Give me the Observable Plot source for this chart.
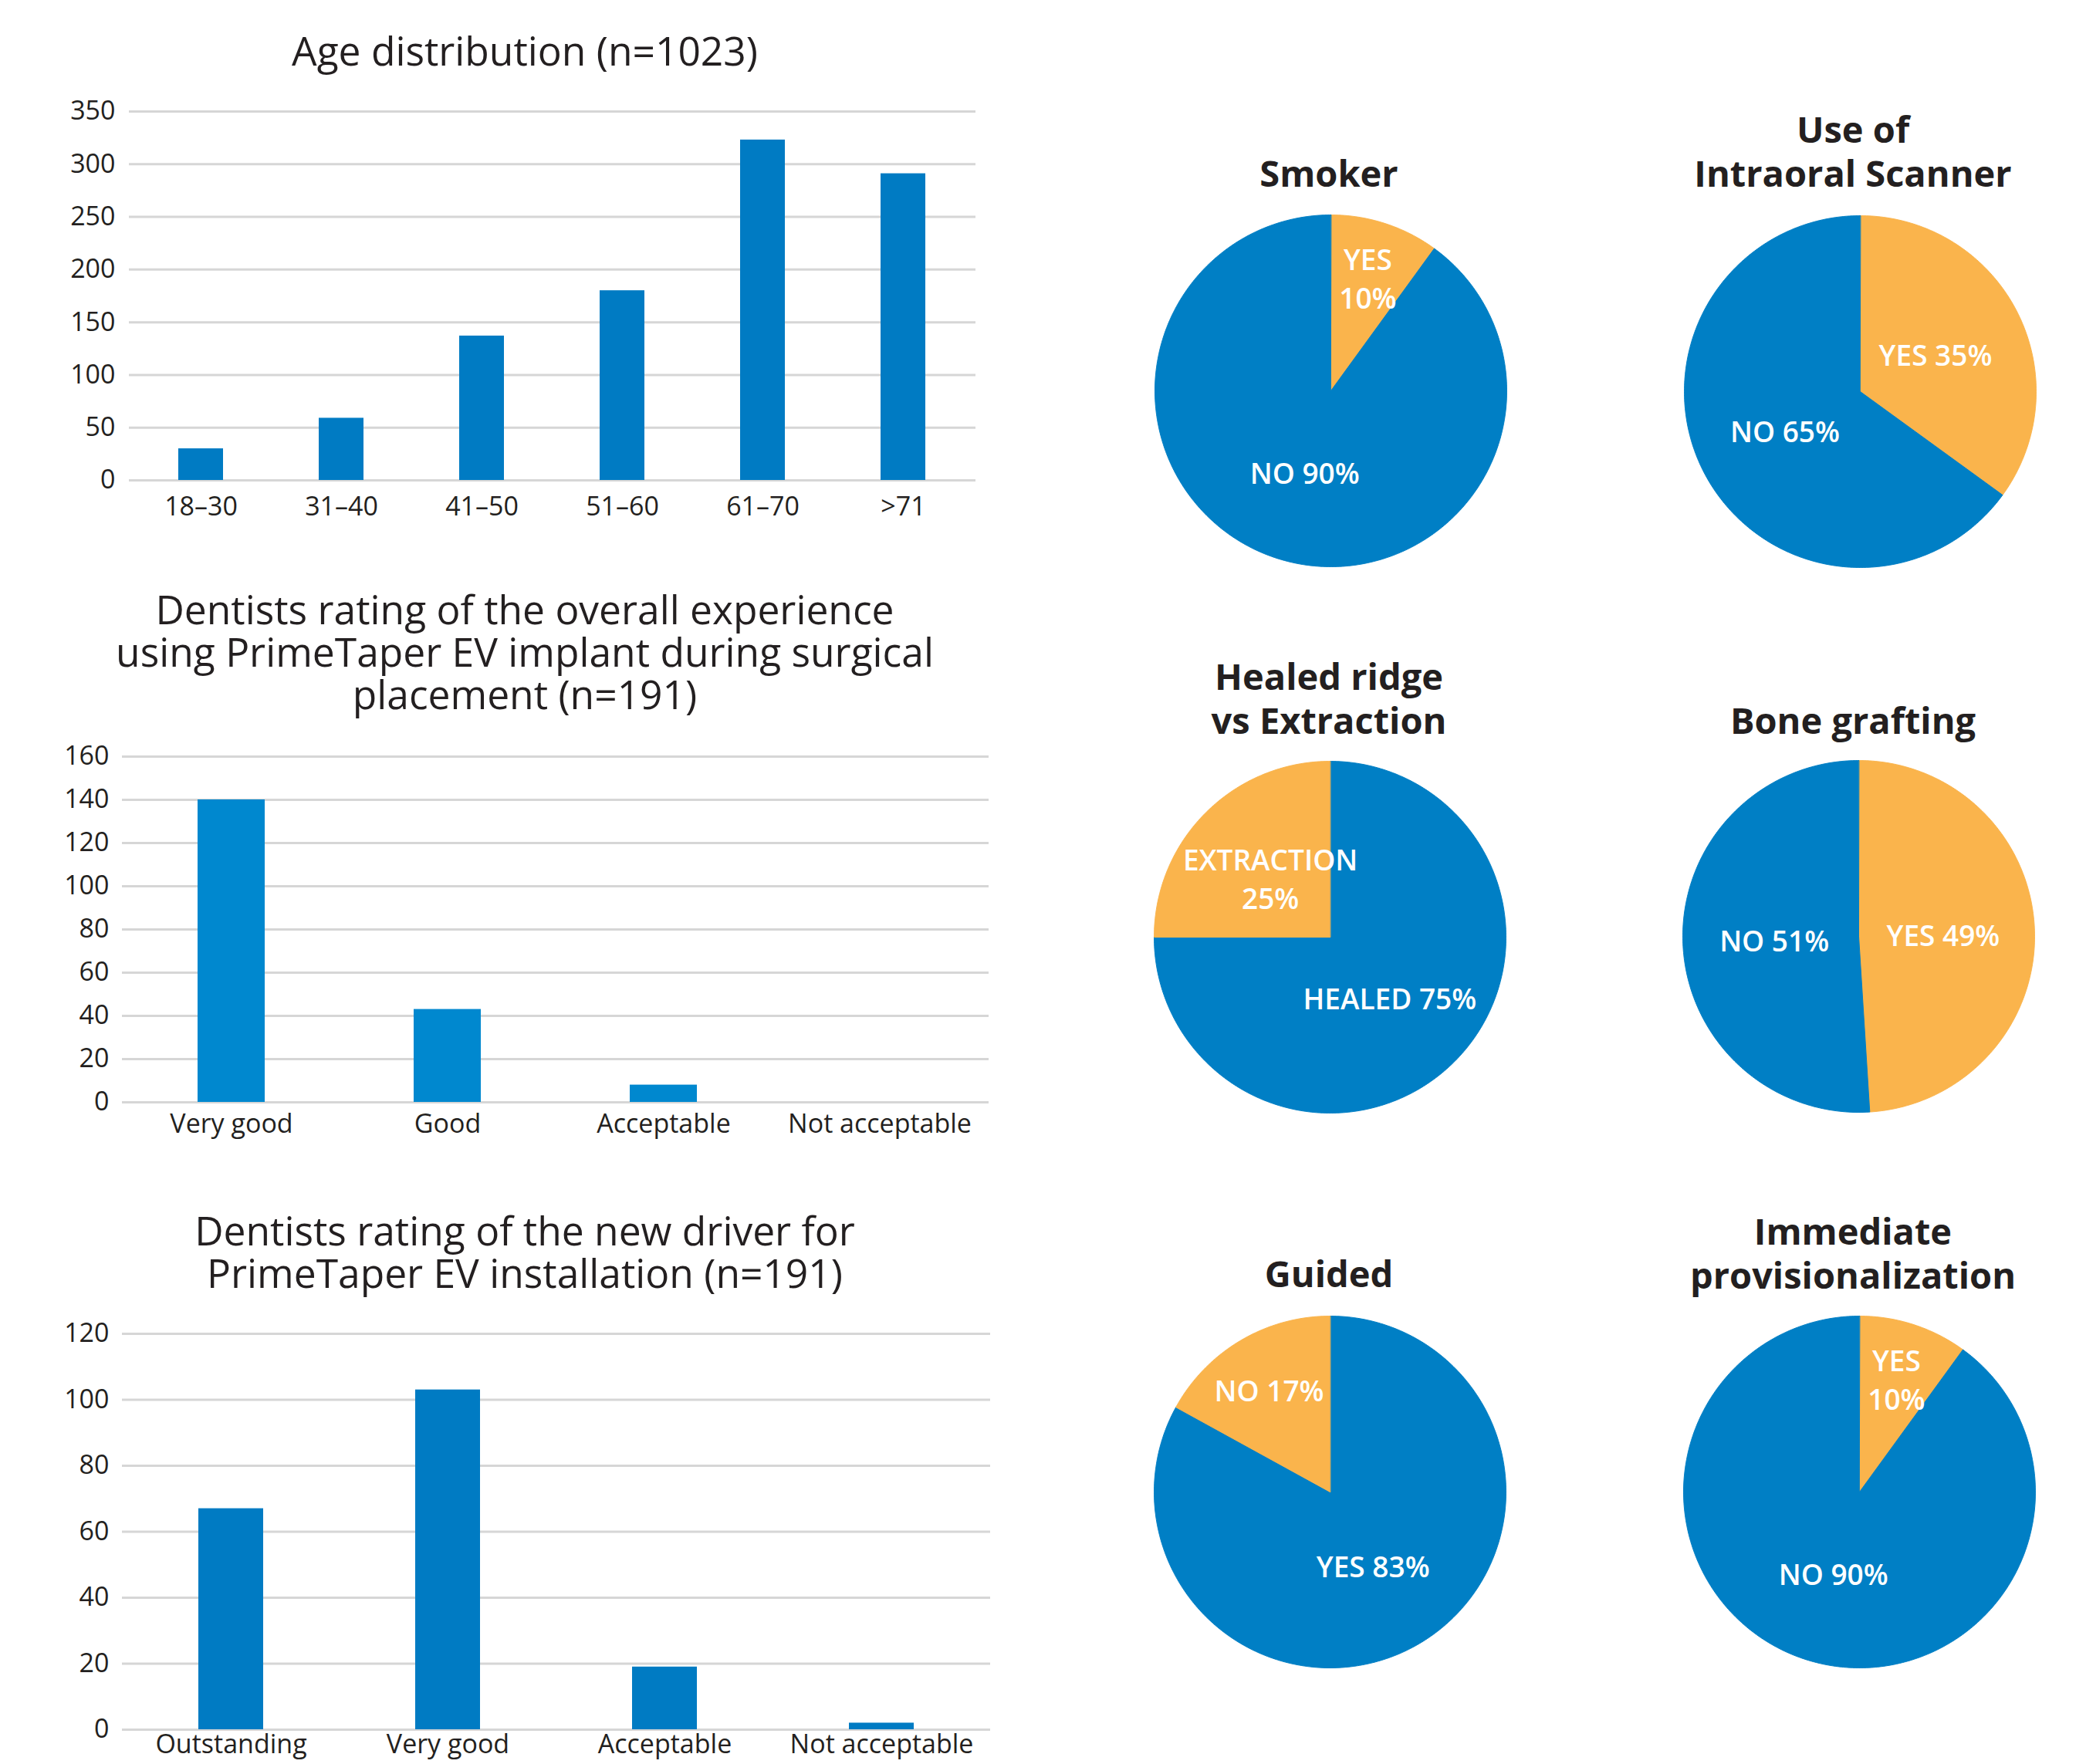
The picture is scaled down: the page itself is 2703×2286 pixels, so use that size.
<!DOCTYPE html>
<html>
<head>
<meta charset="utf-8">
<script src="https://cdn.jsdelivr.net/npm/d3@7"></script>
<script src="https://cdn.jsdelivr.net/npm/@observablehq/plot@0.6"></script>
<style>
  html, body { margin: 0; padding: 0; background: #ffffff; }
  #root { position: relative; width: 2703px; height: 2286px; overflow: hidden; color: #231f20; }
  .title { position: absolute; transform: translateX(-50%); text-align: center; white-space: pre;
           font-family: 'Open Sans', Lato, sans-serif; font-size: 51.5px; line-height: 55px; font-weight: 400; color: #231f20; }
  .pie-title { font-weight: 700; font-size: 47px; line-height: 57px; }
  .chart { position: absolute; }
  .chart svg { max-width: none !important; display: block; }
</style>
</head>
<body>
<div id="root"></div>
<script>
// ---------------- DATA ----------------
const ageGroups = ["18–30", "31–40", "41–50", "51–60", "61–70", ">71"];
const ageCounts = [30, 59, 137, 180, 323, 291];
const ageTicks = [0, 50, 100, 150, 200, 250, 300, 350];

const experienceRatings = ["Very good", "Good", "Acceptable", "Not acceptable"];
const experienceCounts = [140, 43, 8, 0];
const experienceTicks = [0, 20, 40, 60, 80, 100, 120, 140, 160];

const driverRatings = ["Outstanding", "Very good", "Acceptable", "Not acceptable"];
const driverCounts = [67, 103, 19, 2];
const driverTicks = [0, 20, 40, 60, 80, 100, 120];

const smokerCategories = ["YES", "NO"];
const smokerShares = [10, 90];
const smokerLabels = ["YES\n10%", "NO 90%"];

const scannerCategories = ["YES", "NO"];
const scannerShares = [35, 65];
const scannerLabels = ["YES 35%", "NO 65%"];

const ridgeCategories = ["HEALED", "EXTRACTION"];
const ridgeShares = [75, 25];
const ridgeLabels = ["HEALED 75%", "EXTRACTION\n25%"];

const graftCategories = ["YES", "NO"];
const graftShares = [49, 51];
const graftLabels = ["YES 49%", "NO 51%"];

const guidedCategories = ["YES", "NO"];
const guidedShares = [83, 17];
const guidedLabels = ["YES 83%", "NO 17%"];

const provisionalCategories = ["YES", "NO"];
const provisionalShares = [10, 90];
const provisionalLabels = ["YES\n10%", "NO 90%"];

// ---------------- STYLE ----------------
const FONT = "'Open Sans', Lato, sans-serif";
const INK = "#231f20";
const GRID = "#d6d6d6";
const BAR_BLUE = "#007bc3";
const BAR_BLUE_LIGHT = "#0088cf";
const PIE_BLUE = "#007fc5";
const ORANGE = "#fab44c";

const root = document.getElementById("root");

function place(node, left, top) {
  const div = document.createElement("div");
  div.className = "chart";
  div.style.left = left + "px";
  div.style.top = top + "px";
  div.appendChild(node);
  root.appendChild(div);
}

function title(text, cx, top, cls) {
  const div = document.createElement("div");
  div.className = "title" + (cls ? " " + cls : "");
  div.style.left = cx + "px";
  div.style.top = top + "px";
  div.textContent = text;
  root.appendChild(div);
}

function barChart(o) {
  const data = o.categories.map((c, i) => ({category: c, value: o.values[i]}));
  return Plot.plot({
    width: o.width,
    height: o.height,
    marginLeft: o.marginLeft,
    marginRight: o.marginRight,
    marginTop: o.marginTop,
    marginBottom: o.marginBottom,
    style: {fontFamily: FONT, fontSize: "34px", color: INK, background: "transparent", overflow: "visible"},
    x: {domain: o.categories, paddingInner: o.padding, paddingOuter: o.padding / 2, label: null, tickSize: 0, tickPadding: o.xPad},
    y: {domain: [0, o.ticks[o.ticks.length - 1]], ticks: o.ticks, label: null, tickSize: 0, tickPadding: o.yPad},
    marks: [
      Plot.ruleY(o.ticks, {stroke: GRID, strokeWidth: 3}),
      Plot.barY(data, {x: "category", y: "value", fill: o.color})
    ]
  });
}

function pieChart(o) {
  const r = 228, size = 464, m = (size - 2 * r) / 2;
  const arcs = d3.pie().sort(null).value(d => d)(o.shares);
  const outline = [];
  arcs.forEach((a, i) => {
    const n = Math.max(2, Math.ceil((a.endAngle - a.startAngle) / (Math.PI / 360)));
    outline.push({key: o.categories[i], x: 0, y: 0});
    for (let k = 0; k <= n; k++) {
      const t = a.startAngle + (a.endAngle - a.startAngle) * k / n;
      outline.push({key: o.categories[i], x: Math.sin(t), y: Math.cos(t)});
    }
  });
  const labelData = arcs.map((a, i) => {
    const mid = (a.startAngle + a.endAngle) / 2;
    const f = o.shares[i] < 20 ? 0.68 : 0.48;
    return {text: o.labels[i], x: f * Math.sin(mid), y: f * Math.cos(mid)};
  });
  const node = Plot.plot({
    width: size, height: size, margin: m,
    style: {background: "transparent", overflow: "visible"},
    x: {domain: [-1, 1], axis: null},
    y: {domain: [-1, 1], axis: null},
    color: {domain: o.categories, range: o.categories.map(c => c === o.accent ? ORANGE : PIE_BLUE)},
    marks: [
      Plot.line(outline, {x: "x", y: "y", z: "key", fill: "key", stroke: "key", strokeWidth: 1, curve: "linear-closed"}),
      Plot.text(labelData, {x: "x", y: "y", text: "text", fill: "white", fontSize: 37, fontWeight: 600,
                            fontFamily: FONT, lineHeight: 1.36})
    ]
  });
  place(node, o.cx - size / 2, o.cy - size / 2);
}

// ---------------- BAR CHARTS ----------------
title("Age distribution (n=1023)", 680, 38);
place(barChart({
  categories: ageGroups, values: ageCounts, ticks: ageTicks, color: BAR_BLUE,
  width: 1290, height: 602, marginLeft: 167, marginRight: 26, marginTop: 44, marginBottom: 80,
  padding: 0.68, xPad: 21, yPad: 18
}), 0, 100);

title("Dentists rating of the overall experience\nusing PrimeTaper EV implant during surgical\nplacement (n=191)", 680, 762);
place(barChart({
  categories: experienceRatings, values: experienceCounts, ticks: experienceTicks, color: BAR_BLUE_LIGHT,
  width: 1300, height: 558, marginLeft: 158, marginRight: 19, marginTop: 40, marginBottom: 70,
  padding: 0.69, xPad: 15, yPad: 17
}), 0, 940);

title("Dentists rating of the new driver for\nPrimeTaper EV installation (n=191)", 680, 1567);
place(barChart({
  categories: driverRatings, values: driverCounts, ticks: driverTicks, color: BAR_BLUE,
  width: 1300, height: 596, marginLeft: 158, marginRight: 17, marginTop: 38, marginBottom: 45,
  padding: 0.70, xPad: 6, yPad: 17
}), 0, 1690);

// ---------------- PIE CHARTS ----------------
title("Smoker", 1722, 196, "pie-title");
pieChart({categories: smokerCategories, shares: smokerShares, labels: smokerLabels, accent: "YES", cx: 1724, cy: 506});

title("Use of\nIntraoral Scanner", 2401, 139, "pie-title");
pieChart({categories: scannerCategories, shares: scannerShares, labels: scannerLabels, accent: "YES", cx: 2410, cy: 507});

title("Healed ridge\nvs Extraction", 1722, 848, "pie-title");
pieChart({categories: ridgeCategories, shares: ridgeShares, labels: ridgeLabels, accent: "EXTRACTION", cx: 1723, cy: 1214});

title("Bone grafting", 2401, 905, "pie-title");
pieChart({categories: graftCategories, shares: graftShares, labels: graftLabels, accent: "YES", cx: 2408, cy: 1213});

title("Guided", 1722, 1622, "pie-title");
pieChart({categories: guidedCategories, shares: guidedShares, labels: guidedLabels, accent: "NO", cx: 1723, cy: 1933});

title("Immediate\nprovisionalization", 2401, 1567, "pie-title");
pieChart({categories: provisionalCategories, shares: provisionalShares, labels: provisionalLabels, accent: "YES", cx: 2409, cy: 1933});
</script>
</body>
</html>
